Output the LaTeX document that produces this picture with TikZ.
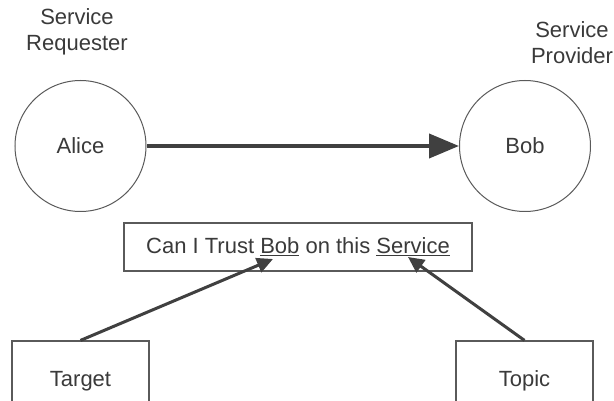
\documentclass[tikz,border=0pt]{standalone}
\usepackage{fontspec}
\setmainfont{Liberation Sans}
\usetikzlibrary{arrows.meta}
\definecolor{ink}{HTML}{3A3A3A}
\definecolor{edge}{HTML}{5A5A5A}
\definecolor{wire}{HTML}{404040}
\begin{document}
\begin{tikzpicture}[x=1pt,y=-1pt,
  every node/.style={text=ink,font=\fontsize{22}{26}\selectfont},
  party/.style={circle,draw=edge,line width=1pt,minimum size=131pt,inner sep=0pt},
  box/.style={rectangle,draw=edge,line width=1.2pt,inner sep=0pt},
  role/.style={align=center,inner sep=0pt},
  bigarrow/.style={draw=wire,line width=4pt,-{Triangle[length=30pt,width=24pt]}},
  smallarrow/.style={draw=wire,line width=3pt,-{Triangle[length=16pt,width=15pt]}}]
\useasboundingbox (0,0) rectangle (614,401);
\fill[white] (0,0) rectangle (614,401);

% roles above the two parties
\node[role] (reqlabel) at (77,32) {Service\\Requester};
\node[role] (provlabel) at (572,43) {Service\\Provider};

% the two parties
\node[party] (alice) at (80.5,146) {Alice};
\node[party] (bob) at (525,146) {Bob};
\draw[bigarrow] (alice) -- (bob);

% the trust question
\node[box,minimum width=348pt,minimum height=48pt] (question) at (298,247)
  {Can I Trust \underline{Bob} on this \underline{Service}};
\coordinate (tipbob) at (273,259);
\coordinate (tipservice) at (408,257);

% the two aspects of the question
\node[box,minimum width=137pt,minimum height=80pt] (target) at (80.5,381) {Target};
\node[box,minimum width=137pt,minimum height=80pt] (topic) at (524.5,381) {Topic};

\draw[smallarrow] (target.north) -- (tipbob);
\draw[smallarrow] (topic.north) -- (tipservice);
\end{tikzpicture}
\end{document}
